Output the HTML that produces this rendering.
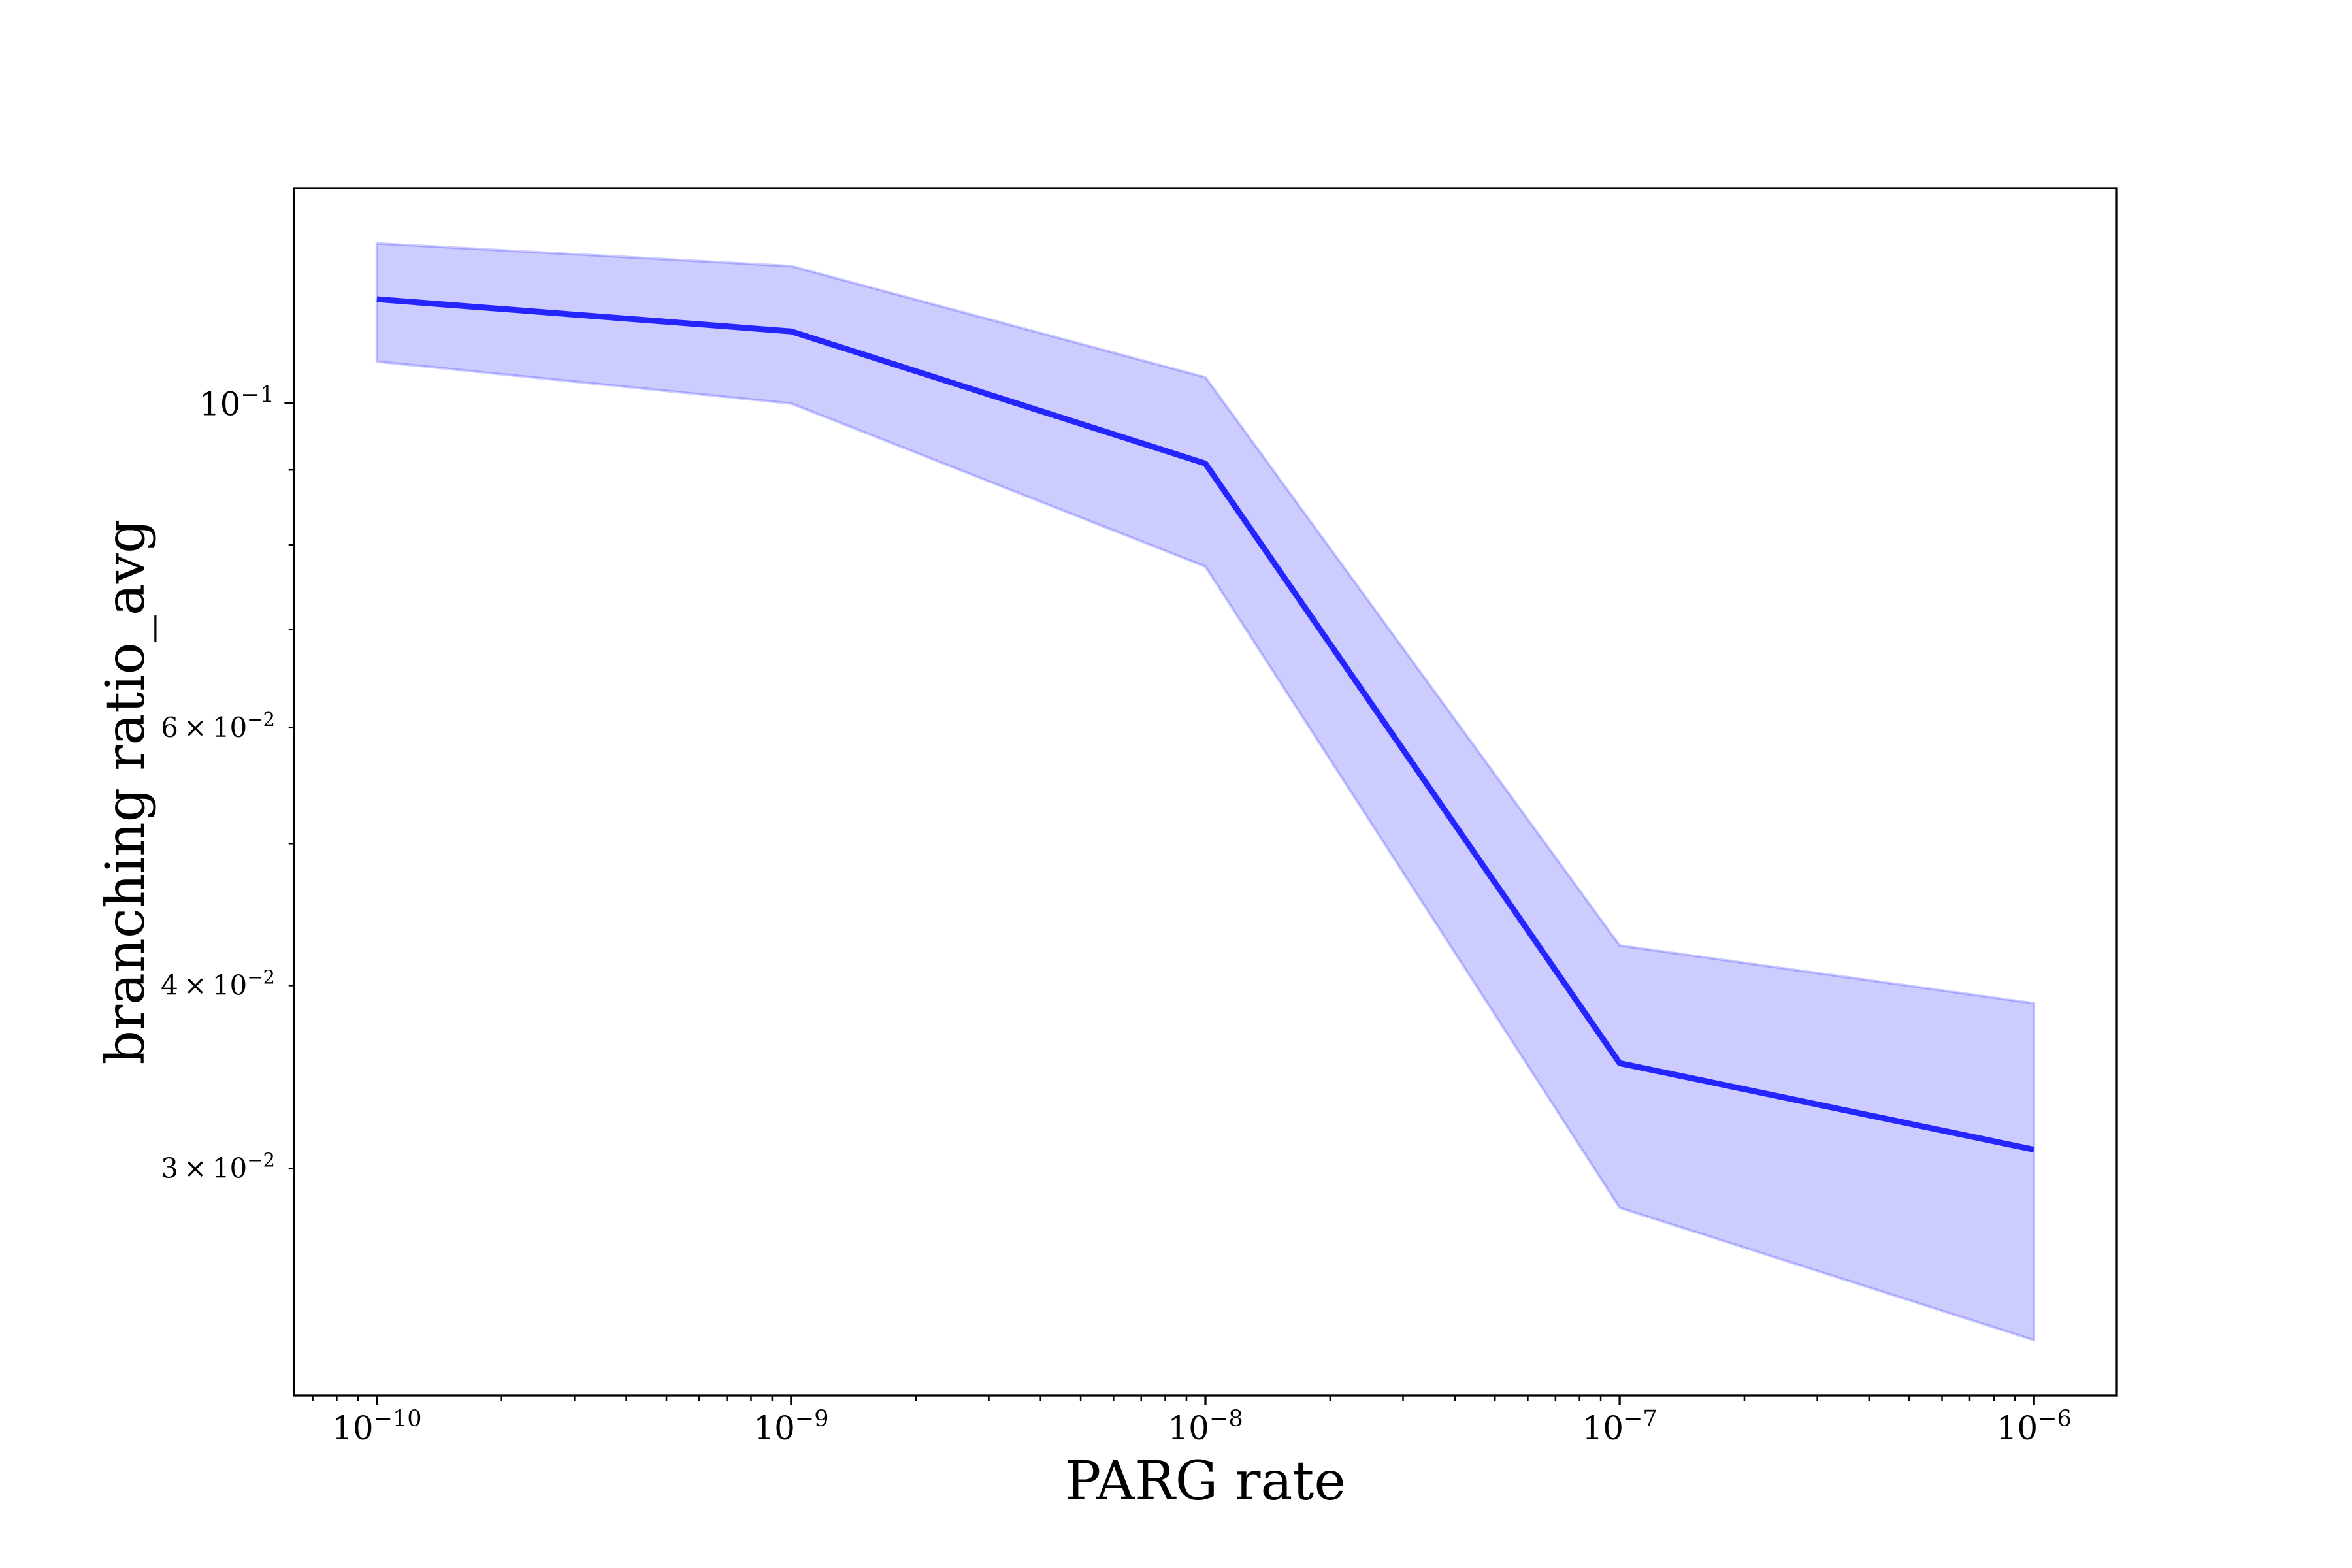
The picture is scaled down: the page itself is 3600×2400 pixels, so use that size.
<!DOCTYPE html>
<html><head><meta charset="utf-8"><style>
html,body{margin:0;padding:0;background:#fff;}
svg{display:block;font-family:"DejaVu Serif","Liberation Serif",serif;}
</style></head><body>
<svg id="chart" width="3600" height="2400" viewBox="0 0 3600 2400" xmlns="http://www.w3.org/2000/svg">
<rect x="0" y="0" width="3600" height="2400" fill="#fff"/>
<g id="plot"></g>
<text x="1845" y="2295" font-size="82" text-anchor="middle">PARG rate</text>
<text x="220" y="1212" font-size="82" text-anchor="middle" transform="rotate(-90 220 1212)">branching ratio_avg</text>
</svg>
<script>
const xExponents = [-10, -9, -8, -7, -6];
const meanValues = [0.1177, 0.1119, 0.0909, 0.0354, 0.0309];
const upperValues = [0.1285, 0.1240, 0.1041, 0.0426, 0.0389];
const lowerValues = [0.1067, 0.0999, 0.0773, 0.0282, 0.0229];
const xTickExps = [-10, -9, -8, -7, -6];
const yMajorTicks = [0.1];
const yMinorLabels = ['3', '4', '6'];

const L = 450, R = 3240, T = 288, B = 2136;
const xMin = -10.2, xMax = -5.8;
const yLogMin = Math.log10(0.02099), yLogMax = Math.log10(0.14017);
function xs(e){ return L + (e - xMin) / (xMax - xMin) * (R - L); }
function ys(v){ return B - (Math.log10(v) - yLogMin) / (yLogMax - yLogMin) * (B - T); }
const NS = 'http://www.w3.org/2000/svg';
const g = document.getElementById('plot');
function mk(tag, attrs){ const el = document.createElementNS(NS, tag); for (const k in attrs) el.setAttribute(k, attrs[k]); return el; }

let d = '';
xExponents.forEach((e,i)=>{ d += (i?'L':'M') + xs(e) + ' ' + ys(upperValues[i]) + ' '; });
for (let i = xExponents.length-1; i >= 0; i--) d += 'L' + xs(xExponents[i]) + ' ' + ys(lowerValues[i]) + ' ';
d += 'Z';
const band = mk('path', {d: d, fill: 'rgba(0,0,255,0.2)', stroke: 'rgba(0,0,255,0.2)', 'stroke-width': 4});


g.appendChild(band);

const pts = xExponents.map((e,i)=> xs(e) + ',' + ys(meanValues[i])).join(' ');
const line = mk('polyline', {points: pts, fill: 'none', stroke: '#2525ff', 'stroke-width': 9, 'stroke-linejoin': 'round'});


g.appendChild(line);

for (let e = -11; e <= -6; e++) {
  for (let m = 2; m <= 9; m++) {
    const p = e + Math.log10(m);
    if (p < xMin || p > xMax) continue;
    const t = mk('line', {x1: xs(p), x2: xs(p), y1: B, y2: B + 8.3, stroke: '#000', 'stroke-width': 2.5});
    
    
    g.appendChild(t);
  }
}
xTickExps.forEach(e=>{
  const t = mk('line', {x1: xs(e), x2: xs(e), y1: B, y2: B + 14.6, stroke: '#000', 'stroke-width': 3.3});
  
  
  g.appendChild(t);
  const tx = mk('text', {x: xs(e), y: 2203, 'font-size': 50, 'text-anchor': 'middle'});
  
  
  tx.appendChild(document.createTextNode('10'));
  const sp = mk('tspan', {dy: -20, 'font-size': 35});
  sp.textContent = '\u2212' + Math.abs(e);
  tx.appendChild(sp);
  g.appendChild(tx);
});

for (let m = 2; m <= 9; m++) {
  const v = m * 0.01;
  if (Math.log10(v) < yLogMin || Math.log10(v) > yLogMax) continue;
  const t = mk('line', {x1: L, x2: L - 8.3, y1: ys(v), y2: ys(v), stroke: '#000', 'stroke-width': 2.5});
  
  
  g.appendChild(t);
  if (yMinorLabels.indexOf(String(m)) >= 0) {
    const tx = mk('text', {x: 421, y: ys(v) + 14, 'font-size': 42, 'text-anchor': 'end'});
    
    
    tx.appendChild(document.createTextNode(m + '\u2009\u00d7\u200910'));
    const sp = mk('tspan', {dy: -17, 'font-size': 29});
    sp.textContent = '\u22122';
    tx.appendChild(sp);
    g.appendChild(tx);
  }
}
yMajorTicks.forEach(v=>{
  const t = mk('line', {x1: L, x2: L - 14.6, y1: ys(v), y2: ys(v), stroke: '#000', 'stroke-width': 3.3});
  
  
  g.appendChild(t);
  const tx = mk('text', {x: 420, y: ys(v) + 19, 'font-size': 50, 'text-anchor': 'end'});
  
  
  tx.appendChild(document.createTextNode('10'));
  const sp = mk('tspan', {dy: -20, 'font-size': 35});
  sp.textContent = '\u2212' + Math.round(-Math.log10(v));
  tx.appendChild(sp);
  g.appendChild(tx);
});

const fr = mk('rect', {x: L, y: T, width: R - L, height: B - T, fill: 'none', stroke: '#000', 'stroke-width': 3.3});


g.appendChild(fr);
</script>
</body></html>
